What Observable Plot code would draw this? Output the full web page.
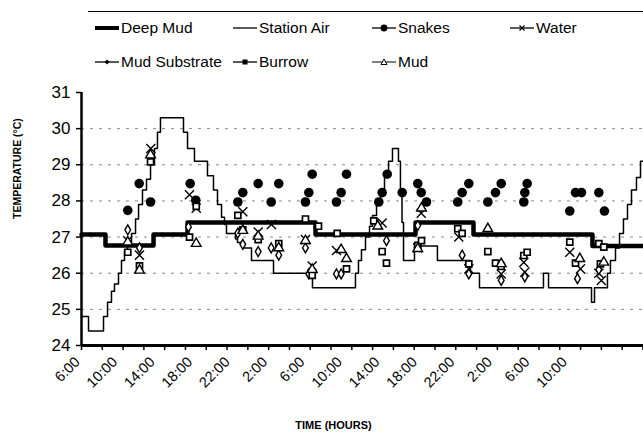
<!DOCTYPE html>
<html><head><meta charset="utf-8">
<script src="https://cdn.jsdelivr.net/npm/d3@7"></script>
<script src="https://cdn.jsdelivr.net/npm/@observablehq/plot@0.6"></script>
<style>
body{margin:0;background:#fff;font-family:"Liberation Sans",Arial,sans-serif;}
#wrap{position:relative;width:643px;height:435px;overflow:hidden;background:#fff;}
#legend{position:absolute;left:88px;top:11px;width:560px;height:68px;border-top:1.5px solid #000;}
.item{position:absolute;display:flex;align-items:center;font-size:15.5px;color:#000;height:18px;}
.item svg{margin-right:2px;}
#chart{position:absolute;left:0;top:80px;}
</style></head><body><div id="wrap"><div id="legend"></div><div id="chart"></div></div>
<script>
// ---- data (time in hours after 6:00 of day 1, temperature in °C) ----
const labelHours = [0,4,8,12,16,20,24,28,32,36,40,44,48,52];
const tickLabels = ["6:00","10:00","14:00","18:00","22:00","2:00","6:00","10:00","14:00","18:00","22:00","2:00","6:00","10:00"];
const yTicks = [24,25,26,27,28,29,30,31];
const gridTemps = [25,26,27,28,29,30];

const airTime = [0,0.75,2.35,2.78,3.2,3.52,3.95,4.27,4.59,4.91,5.34,5.77,6.09,6.51,6.94,7.37,7.79,8.11,8.43,10.89,11.32,12.06,13.45,14.09,14.52,14.95,15.27,15.48,16.44,16.65,17.19,18.15,20.5,24.66,29.25,29.57,29.89,30.32,30.75,31.07,31.5,31.92,32.35,32.78,33.2,33.84,34.05,34.22,34.38,35.55,38.0,41.53,42.49,49.32,49.86,54.45,54.77,56.15,56.47,57.01,57.44,57.86,58.29,58.72,59.25,59.68,60];
const airTemp = [24.8,24.4,24.8,25.2,25.5,25.7,26.0,26.35,26.6,26.85,27.1,27.5,27.9,28.3,28.6,29.0,29.45,29.9,30.3,29.9,29.45,29.1,28.7,28.3,27.9,27.55,27.35,27.1,26.95,26.85,26.7,26.35,26.0,25.6,26.0,26.35,26.65,27.0,27.3,27.6,27.9,28.3,28.7,29.1,29.45,29.1,28.3,27.4,26.35,26.75,26.35,26.0,25.6,26.0,25.6,25.2,25.6,26.0,26.35,26.7,27.1,27.5,27.9,28.3,28.65,29.1,29.1];

const deepTime = [0,2.56,7.69,11.32,24.98,35.66,41.85,54.55,60];
const deepTemp = [27.07,26.77,27.07,27.4,27.07,27.4,27.07,26.75,26.75];

const snakeTime = [4.94,6.16,7.37,11.6,12.2,16.69,17.22,18.86,20.25,21.06,23.91,24.27,24.63,27.22,27.72,28.29,31.74,32.1,32.64,34.24,35.9,36.27,36.83,40.17,40.64,41.35,43.38,44.2,44.81,47.22,47.33,47.58,52.13,52.74,53.38,55.23,55.83];
const snakeTemp = [27.74,28.48,27.97,28.48,28.02,27.97,28.23,28.48,27.97,28.48,27.97,28.23,28.74,27.97,28.23,28.74,27.97,28.23,28.74,28.23,28.48,28.23,27.97,27.97,28.23,28.48,27.97,28.23,28.48,27.97,28.23,28.48,27.72,28.23,28.23,28.23,27.72];

const waterTime = [4.94,6.19,7.4,11.53,12.25,17.22,18.86,20.28,23.91,24.63,27.22,32.1,35.87,36.27,40.28,41.35,44.81,47.22,47.33,52.13,53.27,55.23,55.5];
const waterTemp = [26.9,26.5,29.45,28.17,27.8,27.7,27.14,27.35,26.93,26.2,26.63,27.39,26.7,27.66,27.0,26.12,25.98,26.3,26.03,26.58,26.12,26.0,25.8];

const subTime = [4.94,6.19,7.37,11.42,16.69,17.22,18.86,20.25,21.06,23.91,24.27,27.22,27.72,32.56,35.9,40.64,41.35,44.81,47.33,52.95,55.23];
const subTemp = [27.2,26.7,29.2,27.28,27.11,26.8,26.6,26.7,26.5,26.7,25.98,25.98,25.98,26.9,27.32,26.5,25.98,25.8,25.9,25.85,26.1];

const burrowTime = [4.94,6.19,7.37,11.53,12.25,16.69,17.22,18.86,21.06,23.91,24.63,25.3,27.3,28.29,31.2,32.1,32.56,35.9,36.3,40.17,40.64,41.35,43.38,44.2,44.81,47.22,47.58,52.13,52.74,55.23,55.76,55.4];
const burrowTemp = [26.58,26.2,29.08,27.0,27.85,27.6,27.2,26.93,26.82,27.5,25.94,27.3,27.1,26.12,27.45,26.6,26.28,26.77,26.9,27.23,27.1,26.26,26.6,26.28,26.19,26.49,26.58,26.86,26.28,26.82,26.72,26.26];

const mudTime = [4.94,6.19,7.37,12.25,17.22,18.86,21.06,23.91,24.63,27.72,28.29,31.63,35.9,36.3,43.38,44.81,53.2,55.76];
const mudTemp = [26.86,26.08,29.27,26.82,27.18,27.02,26.7,26.9,26.1,26.65,26.4,27.3,26.68,27.8,27.23,26.26,26.4,26.3];

// ---- build ----
const rows = (t, v) => t.map((d, i) => ({t: d, v: v[i]}));
const labelOf = new Map(labelHours.map((h, i) => [h, tickLabels[i]]));
const minorTicks = d3.range(0, 60.01, 2.22);

const chart = Plot.plot({
  width: 643, height: 355,
  marginTop: 12, marginBottom: 90, marginLeft: 81, marginRight: 0,
  x: {domain: [0, 60]},
  y: {domain: [24, 31]},
  style: {fontFamily: "'Liberation Sans', Arial, sans-serif", background: "white", color: "black", overflow: "visible"},
  marks: [
    Plot.ruleY(gridTemps, {stroke: "#888", strokeDasharray: "3,6", strokeWidth: 1}),
    Plot.line(rows(airTime, airTemp), {x: "t", y: "v", curve: "step-after", stroke: "black", strokeWidth: 1.5}),
    Plot.line(rows(deepTime, deepTemp), {x: "t", y: "v", curve: "step-after", stroke: "black", strokeWidth: 4.5}),
    Plot.dot(rows(snakeTime, snakeTemp), {x: "t", y: "v", symbol: "circle", fill: "black", r: 4.8}),
    Plot.dot(rows(waterTime, waterTemp), {x: "t", y: "v", symbol: "times", stroke: "black", strokeWidth: 1.4, r: 4.2}),
    Plot.dot(rows(subTime, subTemp), {x: "t", y: "v", symbol: "diamond", fill: "white", stroke: "black", strokeWidth: 1.4, r: 3}),
    Plot.dot(rows(burrowTime, burrowTemp), {x: "t", y: "v", symbol: "square", fill: "white", stroke: "black", strokeWidth: 1.7, r: 3.4}),
    Plot.dot(rows(mudTime, mudTemp), {x: "t", y: "v", symbol: "triangle", fill: "white", stroke: "black", strokeWidth: 1.4, r: 3.6}),
    Plot.axisY({ticks: yTicks, tickFormat: d => String(d), tickSize: 5, tickPadding: 6, fontSize: 17, label: null, strokeWidth: 1.5}),
    Plot.axisX({ticks: minorTicks, tickFormat: () => "", tickSize: 5, strokeWidth: 1.5, label: null}),
    Plot.axisX({ticks: labelHours, tickFormat: d => labelOf.get(d), tickSize: 0, tickRotate: -45, tickPadding: 14, dx: -4, fontSize: 14.5, label: null}),
    Plot.ruleX([0], {stroke: "black", strokeWidth: 2.5}),
    Plot.ruleY([24], {stroke: "black", strokeWidth: 3}),
    Plot.text(["TEMPERATURE (°C)"], {frameAnchor: "left", dx: -64, rotate: -90, fontSize: 10.5, fontWeight: "bold"}),
    Plot.text(["TIME (HOURS)"], {frameAnchor: "bottom", dx: -29, dy: 83, fontSize: 11, fontWeight: "bold"})
  ]
});
document.getElementById("chart").appendChild(chart);

// ---- legend ----
const legendItems = [
  {name: "Deep Mud", row: 0, col: 0, w: 4, sym: null},
  {name: "Station Air", row: 0, col: 1, w: 1.3, sym: null},
  {name: "Snakes", row: 0, col: 2, w: 1.3, sym: "circle"},
  {name: "Water", row: 0, col: 3, w: 1.3, sym: "times"},
  {name: "Mud Substrate", row: 1, col: 0, w: 1.3, sym: "diamond"},
  {name: "Burrow", row: 1, col: 1, w: 1.3, sym: "square"},
  {name: "Mud", row: 1, col: 2, w: 1, sym: "triangle"}
];
const colX = [7, 145, 284, 422];
const rowY = [7, 41];
const legend = document.getElementById("legend");
for (const it of legendItems) {
  const div = document.createElement("div");
  div.className = "item";
  div.style.left = colX[it.col] + "px";
  div.style.top = rowY[it.row] + "px";
  let mark = "";
  if (it.sym === "circle") mark = '<circle cx="12" cy="9" r="3.4" fill="black"/>';
  if (it.sym === "times") mark = '<path d="M9.5,6.5L14.5,11.5M14.5,6.5L9.5,11.5" stroke="black" stroke-width="1.2"/>';
  if (it.sym === "diamond") mark = '<path d="M12,6.5L14.5,9L12,11.5L9.5,9Z" fill="black"/>';
  if (it.sym === "square") mark = '<rect x="9.5" y="6.5" width="5" height="5" fill="black"/>';
  if (it.sym === "triangle") mark = '<path d="M12,6L15,11.5L9,11.5Z" fill="white" stroke="black" stroke-width="1"/>';
  div.innerHTML = `<svg width="24" height="18"><line x1="0" y1="9" x2="24" y2="9" stroke="black" stroke-width="${it.w}"/>${mark}</svg><span>${it.name}</span>`;
  legend.appendChild(div);
}
</script></body></html>
